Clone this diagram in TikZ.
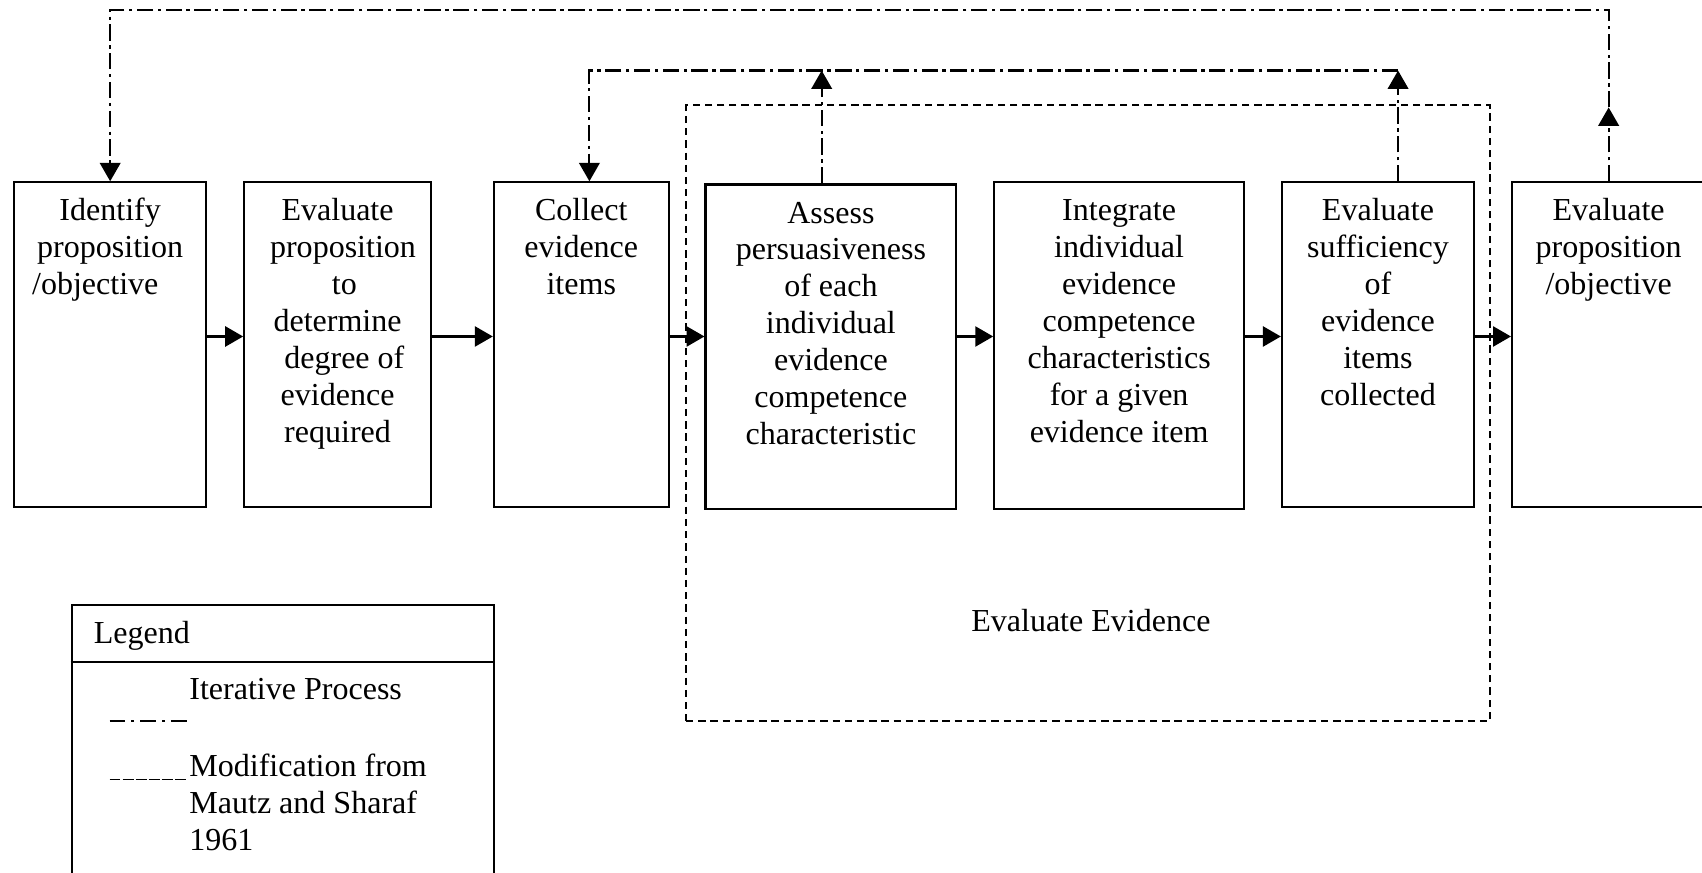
\documentclass[tikz,border=0pt]{standalone}
\usepackage{fontspec}
\setmainfont{Liberation Serif}
\usetikzlibrary{arrows.meta,fit}
\tikzset{
  txt/.style={font=\fontsize{11.8}{13.6}\selectfont, inner sep=0pt},
  box/.style={draw, line width=0.8pt, inner sep=0pt, rectangle},
  btxt/.style={txt, align=center, anchor=north},
  flow/.style={line width=0.8pt, -{Triangle[length=6.6pt,width=7.4pt]}},
  iter/.style={line width=0.8pt, dash pattern=on 6pt off 1.7pt on 1.2pt off 1.7pt},
  iterarr/.style={iter, -{Triangle[length=6.8pt,width=7.6pt]}},
  modbox/.style={draw, line width=0.8pt, dash pattern=on 2.7pt off 1.8pt, inner sep=0pt, rectangle},
}
\newcommand{\fl}{\rule{0pt}{9pt}}
\begin{document}
\begin{tikzpicture}[x=0.4pt,y=-0.4pt]
\useasboundingbox (0,0) rectangle (1568,804);
\clip (0,0) rectangle (1568,804);

% evaluate evidence region
\node[modbox, fit={(632,97) (1373,664)}] (ee) {};
\node[txt, anchor=base] (eel) at (1005,582) {Evaluate Evidence};

% process boxes
\node[box, fit={(13,168) (190,467)}] (b1) {};
\node[box, fit={(225,168) (397,467)}] (b2) {};
\node[box, fit={(455,168) (616,467)}] (b3) {};
\node[box, fit={(650,170) (881,469)}] (b4) {};
\node[box, fit={(916,168) (1146,469)}] (b5) {};
\node[box, fit={(1181,168) (1358,467)}] (b6) {};
\node[box, fit={(1393,168) (1571,467)}] (b7) {};

\node[btxt] (t1) at ([yshift=-5.4pt]b1.north) {\fl Identify\\proposition\\/objective\hspace*{11pt}};
\node[btxt] (t2) at ([yshift=-5.4pt]b2.north) {\fl Evaluate\\\hspace*{4pt}proposition\\\hspace*{5pt}to\\determine\\\hspace*{5pt}degree of\\evidence\\required};
\node[btxt] (t3) at ([yshift=-5.4pt]b3.north) {\fl Collect\\evidence\\items};
\node[btxt] (t4) at ([yshift=-5.4pt]b4.north) {\fl Assess\\persuasiveness\\of each\\individual\\evidence\\competence\\characteristic};
\node[btxt] (t5) at ([yshift=-5.4pt]b5.north) {\fl Integrate\\individual\\evidence\\competence\\characteristics\\for a given\\evidence item};
\node[btxt] (t6) at ([yshift=-5.4pt]b6.north) {\fl Evaluate\\sufficiency\\of\\evidence\\items\\collected};
\node[btxt] (t7) at ([yshift=-5.4pt]b7.north) {\fl Evaluate\\proposition\\/objective};

% main flow
\coordinate (ay) at (0,310);
\draw[flow] (b1.east |- ay) -- (b2.west |- ay);
\draw[flow] (b2.east |- ay) -- (b3.west |- ay);
\draw[flow] (b3.east |- ay) -- (b4.west |- ay);
\draw[flow] (b4.east |- ay) -- (b5.west |- ay);
\draw[flow] (b5.east |- ay) -- (b6.west |- ay);
\draw[flow] (b6.east |- ay) -- (b7.west |- ay);

% outer iteration loop
\coordinate (topy) at (0,9);
\coordinate (midy) at (0,99);
\draw[iterarr] (b7.north) -- (b7.north |- midy);
\draw[iterarr] (b7.north |- midy) -- (b7.north |- topy) -| (b1.north);

% inner iteration loop
\coordinate (in3) at (543,65);
\coordinate (in4) at (757,65);
\coordinate (in6) at (1288,65);
\draw[iterarr] (b4.north -| in4) -- (in4);
\draw[iterarr] (b6.north -| in6) -- (in6);
\draw[iterarr] (in6) -- (in3) -- (b3.north -| in3);

% legend
\node[box, fit={(66,557) (455,840)}] (leg) {};
\coordinate (hy) at (0,610);
\draw[line width=0.8pt] (leg.west |- hy) -- (leg.east |- hy);
\node[txt, anchor=base west] (legt) at (86,593) {Legend};
\node[txt, anchor=base west] (lit) at (174,644) {Iterative Process};
\coordinate (s1a) at (101,664);
\coordinate (s1b) at (173,664);
\draw[line width=0.9pt, dash pattern=on 5.8pt off 2.2pt on 1.1pt off 2.2pt] (s1a) -- (s1b);
\coordinate (s2a) at (101,718);
\coordinate (s2b) at (173,718);
\draw[line width=0.6pt, dash pattern=on 4pt off 0.8pt] (s2a) -- (s2b);
\node[txt, anchor=north west, align=left] (lmod) at (174,692.5) {\fl Modification from\\Mautz and Sharaf\\1961};
\end{tikzpicture}
\end{document}
